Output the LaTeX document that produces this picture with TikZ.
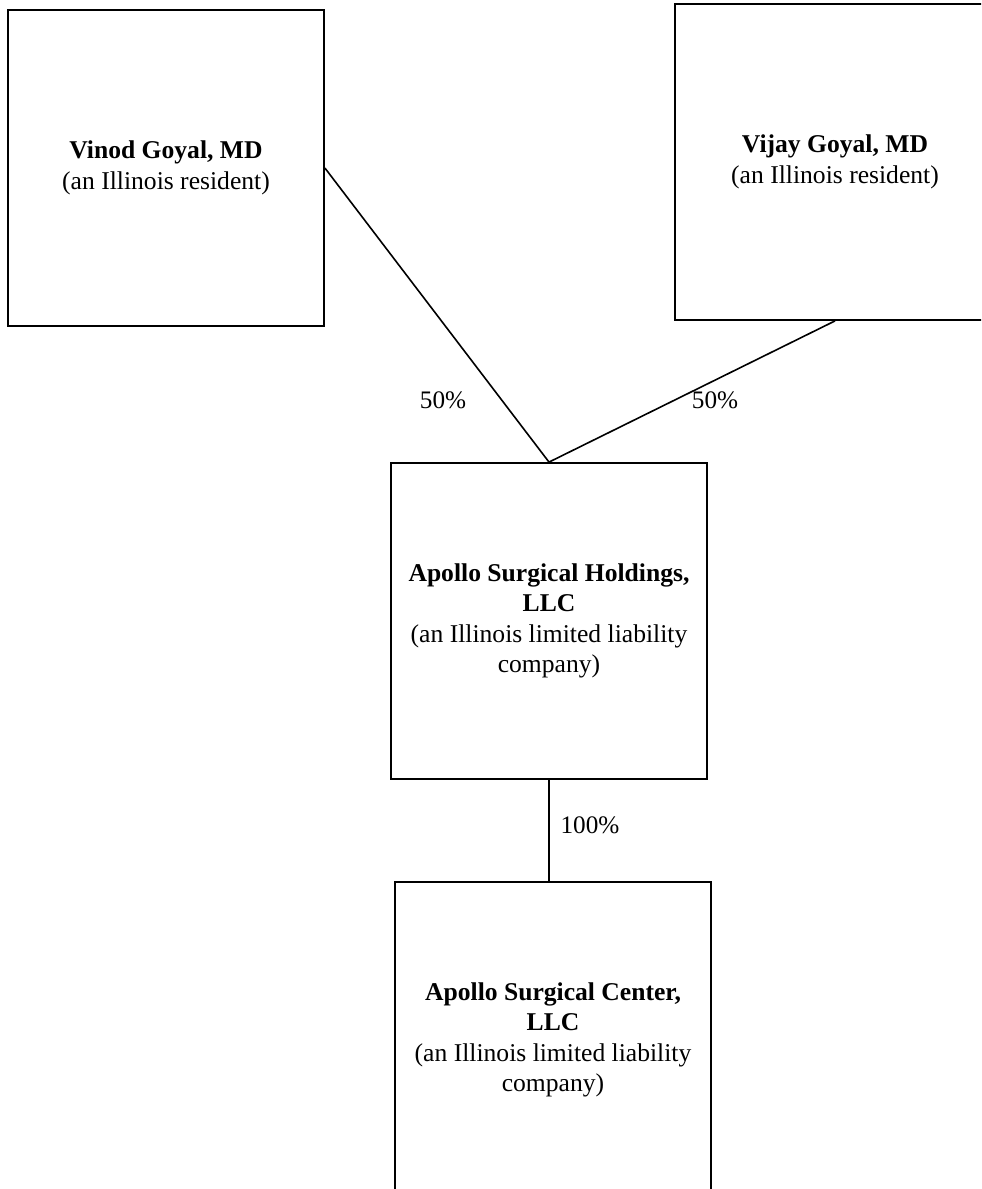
\documentclass[tikz,border=0pt]{standalone}
\usepackage{fontspec}
\setmainfont{Liberation Serif}
\usepackage{tikz}
\usetikzlibrary{positioning}
\tikzset{
  ent/.style={draw=black, line width=0.9pt, fill=white, minimum width=158pt, minimum height=158pt, align=center, inner sep=0pt, font=\fontsize{12.8}{15.2}\selectfont},
  pct/.style={font=\fontsize{12.6}{15}\selectfont},
  own/.style={line width=0.8pt, draw=black},
}

\begin{document}
\begin{tikzpicture}[x=0.5pt, y=-0.5pt]
    \clip (0,0) rectangle (981,1189);
    \fill[white] (0,0) rectangle (981,1189);
    \node[ent] (vinod) at (166,168) {\textbf{Vinod Goyal, MD}\\(an Illinois resident)};
    \node[ent, minimum width=160pt] (vijay) at (835,162) {\textbf{Vijay Goyal, MD}\\(an Illinois resident)};
    \node[ent] (hold) at (549,621) {\textbf{Apollo Surgical Holdings,}\\\textbf{LLC}\\(an Illinois limited liability\\company)};
    \node[ent, below=50.5pt of hold, xshift=2pt] (center) {\textbf{Apollo Surgical Center,}\\\textbf{LLC}\\(an Illinois limited liability\\company)};
    \draw[own] (vinod.east) -- (hold.north);
    \draw[own] (vijay.south) -- (hold.north);
    \draw[own] (hold.south) -- (hold.south |- center.north);
    \node[pct] (p1) at (443,400) {50\%};
    \node[pct] (p2) at (715,400) {50\%};
    \node[pct] (p3) at (590,825) {100\%};
  \end{tikzpicture}
\end{document}
